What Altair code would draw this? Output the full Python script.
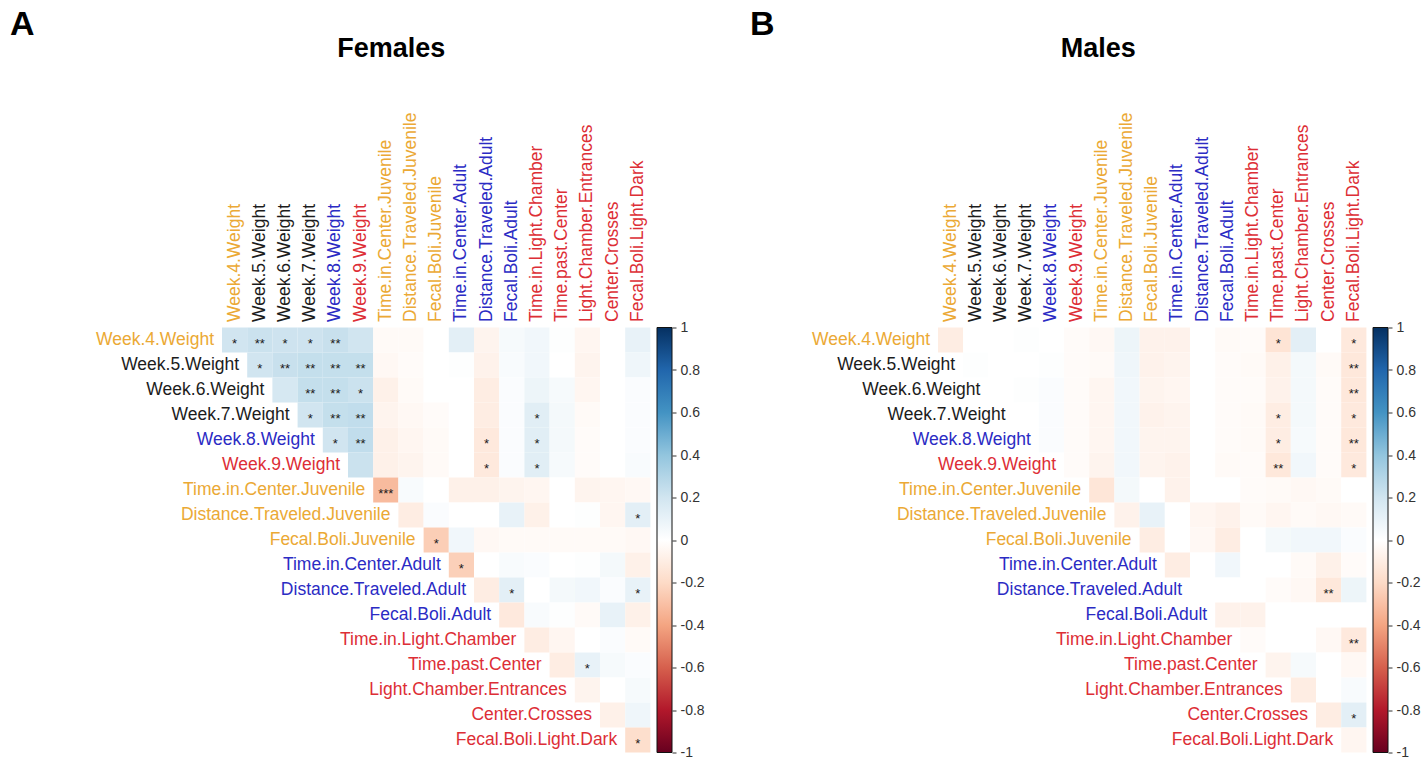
import altair as alt
import pandas as pd

# Variables shown on both axes of each correlation triangle
VARS = [
    "Week.4.Weight", "Week.5.Weight", "Week.6.Weight", "Week.7.Weight",
    "Week.8.Weight", "Week.9.Weight", "Time.in.Center.Juvenile",
    "Distance.Traveled.Juvenile", "Fecal.Boli.Juvenile", "Time.in.Center.Adult",
    "Distance.Traveled.Adult", "Fecal.Boli.Adult", "Time.in.Light.Chamber",
    "Time.past.Center", "Light.Chamber.Entrances", "Center.Crosses",
    "Fecal.Boli.Light.Dark",
]

ORANGE, BLACK, BLUE, RED = "#EBA935", "#1c1c1c", "#2B2BC4", "#DD2E36"
LABEL_COLORS = [
    ORANGE, BLACK, BLACK, BLACK, BLUE, RED,
    ORANGE, ORANGE, ORANGE,
    BLUE, BLUE, BLUE,
    RED, RED, RED, RED, RED,
]

# Upper-triangle correlations, one list per row (row i holds columns i..17)
FEMALE_R = [
    [0.20, 0.22, 0.21, 0.21, 0.23, 0.20, -0.03, -0.03, 0.0, 0.12, -0.06, 0.04, 0.06, 0.01, -0.05, 0.0, 0.10],
    [0.20, 0.23, 0.24, 0.24, 0.24, -0.04, -0.02, 0.0, 0.01, -0.07, 0.03, 0.06, 0.0, -0.06, 0.0, 0.07],
    [0.18, 0.24, 0.24, 0.22, -0.08, -0.03, 0.0, 0.0, -0.10, 0.02, 0.08, 0.04, -0.05, 0.0, 0.02],
    [0.20, 0.24, 0.25, -0.06, -0.04, -0.02, 0.0, -0.10, 0.02, 0.13, 0.05, -0.03, 0.0, 0.02],
    [0.20, 0.25, -0.08, -0.05, -0.03, 0.0, -0.12, 0.02, 0.13, 0.05, -0.02, 0.0, 0.02],
    [0.22, -0.08, -0.06, -0.03, 0.0, -0.12, 0.02, 0.13, 0.04, -0.02, 0.0, 0.03],
    [-0.32, 0.03, 0.0, -0.08, -0.08, -0.06, -0.05, 0.0, -0.06, -0.05, -0.04],
    [-0.10, 0.02, 0.0, 0.0, 0.10, -0.08, 0.0, 0.01, -0.05, 0.12],
    [-0.25, 0.06, -0.04, -0.03, -0.03, -0.03, -0.03, -0.03, -0.04],
    [-0.24, 0.0, 0.03, 0.02, 0.0, 0.01, 0.05, -0.08],
    [-0.10, 0.12, 0.0, 0.05, 0.06, 0.02, 0.10],
    [-0.12, 0.03, 0.01, -0.03, 0.10, -0.08],
    [-0.10, -0.05, 0.0, 0.02, -0.03],
    [-0.10, 0.10, 0.04, 0.02],
    [-0.06, 0.0, 0.04],
    [-0.08, 0.07],
    [-0.18],
]

MALE_R = [
    [-0.10, 0.0, 0.0, 0.01, 0.0, -0.02, -0.04, 0.08, -0.07, -0.07, 0.0, -0.03, -0.02, -0.15, 0.12, 0.0, -0.12],
    [0.01, 0.0, 0.0, 0.01, -0.02, -0.03, 0.07, -0.07, -0.06, 0.0, -0.02, -0.03, -0.08, 0.05, -0.03, -0.13],
    [0.0, 0.01, 0.02, -0.02, -0.05, 0.06, -0.06, -0.05, 0.0, -0.02, -0.02, -0.07, 0.05, -0.02, -0.13],
    [0.0, 0.02, -0.02, -0.05, 0.06, -0.07, -0.06, 0.0, -0.02, -0.03, -0.10, 0.05, -0.02, -0.12],
    [0.02, -0.02, -0.05, 0.06, -0.06, -0.06, 0.0, -0.02, -0.03, -0.10, 0.04, -0.02, -0.13],
    [-0.02, -0.06, 0.06, -0.06, -0.07, 0.0, -0.03, -0.02, -0.13, 0.06, -0.02, -0.12],
    [-0.14, 0.05, 0.0, -0.07, 0.0, 0.0, -0.02, -0.03, -0.04, -0.03, 0.0],
    [-0.07, 0.10, 0.0, -0.05, -0.07, -0.03, -0.05, -0.03, -0.04, -0.03],
    [-0.10, 0.0, -0.04, -0.10, 0.0, 0.05, 0.06, 0.06, 0.02],
    [-0.10, 0.0, 0.06, 0.0, 0.0, -0.03, -0.08, -0.02],
    [0.0, 0.0, 0.0, -0.02, -0.04, -0.13, 0.08],
    [-0.07, -0.07, 0.0, 0.0, 0.0, 0.0],
    [-0.02, 0.0, 0.0, -0.04, -0.12],
    [-0.06, 0.04, 0.0, -0.04],
    [-0.10, 0.0, 0.03],
    [-0.10, 0.12],
    [-0.05],
]

# Significance marks: (row number, column number, stars)
FEMALE_SIG = [
    (1, 1, "*"), (1, 2, "**"), (1, 3, "*"), (1, 4, "*"), (1, 5, "**"),
    (2, 2, "*"), (2, 3, "**"), (2, 4, "**"), (2, 5, "**"), (2, 6, "**"),
    (3, 4, "**"), (3, 5, "**"), (3, 6, "*"),
    (4, 4, "*"), (4, 5, "**"), (4, 6, "**"), (4, 13, "*"),
    (5, 5, "*"), (5, 6, "**"), (5, 11, "*"), (5, 13, "*"),
    (6, 11, "*"), (6, 13, "*"),
    (7, 7, "***"), (8, 17, "*"), (9, 9, "*"), (10, 10, "*"),
    (11, 12, "*"), (11, 17, "*"), (14, 15, "*"), (17, 17, "*"),
]

MALE_SIG = [
    (1, 14, "*"), (1, 17, "*"), (2, 17, "**"), (3, 17, "**"),
    (4, 14, "*"), (4, 17, "*"), (5, 14, "*"), (5, 17, "**"),
    (6, 14, "**"), (6, 17, "*"), (11, 16, "**"), (13, 17, "**"),
    (16, 17, "*"),
]

BAR_TICKS = [1, 0.8, 0.6, 0.4, 0.2, 0, -0.2, -0.4, -0.6, -0.8, -1]
RDBU_STOPS = [-1, -0.8, -0.6, -0.4, -0.2, 0, 0.2, 0.4, 0.6, 0.8, 1]
RDBU_COLORS = ["#67001F", "#B2182B", "#D6604D", "#F4A582", "#FDDBC7", "#FFFFFF",
               "#D1E5F0", "#92C5DE", "#4393C3", "#2166AC", "#053061"]

N = len(VARS)
CELL_W, CELL_H = 25.2, 25
W, H = CELL_W * N, CELL_H * N
FONT = "Liberation Sans"


def band():
    return alt.Scale(type="band", domain=VARS, paddingInner=0, paddingOuter=0)


def xpos(field):
    return alt.X(field, type="nominal", scale=band(), axis=None)


def ypos(field):
    return alt.Y(field, type="nominal", scale=band(), axis=None)


def panel(r_rows, sig, title, title_dx):
    cells = []
    for i, row in enumerate(r_rows):
        for k, v in enumerate(row):
            cells.append({"row": VARS[i], "col": VARS[i + k], "r": v})
    cells = pd.DataFrame(cells)
    stars = pd.DataFrame([{"row": VARS[i - 1], "col": VARS[j - 1], "s": s} for i, j, s in sig])
    labels = pd.DataFrame({"var": VARS, "color": LABEL_COLORS, "top": VARS[0]})
    ticks = pd.DataFrame({"v": BAR_TICKS})

    # colour bar: the legend draws the gradient, the axis below draws ticks and labels
    heat = alt.Chart(cells).mark_rect().encode(
        x=xpos("col"),
        y=ypos("row"),
        color=alt.Color(
            "r:Q",
            scale=alt.Scale(domain=RDBU_STOPS, range=RDBU_COLORS, interpolate="rgb"),
            legend=alt.Legend(
                orient="none", legendX=435, legendY=0, direction="vertical",
                gradientLength=H, gradientThickness=15,
                gradientStrokeColor="#111", gradientStrokeWidth=1,
                title=None, values=[-1, 1], labelExpr="''",
            ),
        ),
    )

    marks = alt.Chart(stars).mark_text(
        fontSize=13, baseline="middle", dy=3.5, color="#1a1a1a", font=FONT
    ).encode(x=xpos("col"), y=ypos("row"), text="s:N")

    row_labels = alt.Chart(labels).mark_text(
        align="right", baseline="middle", dx=-(CELL_W / 2 + 8), fontSize=17.5, font=FONT
    ).encode(
        x=xpos("var"), y=ypos("var"), text="var:N",
        fill=alt.Fill("color:N", scale=None),
    )

    col_labels = alt.Chart(labels).mark_text(
        align="left", baseline="middle", angle=270, dx=CELL_H / 2 + 5.5,
        fontSize=17.5, font=FONT,
    ).encode(
        x=xpos("var"), y=ypos("top"), text="var:N",
        fill=alt.Fill("color:N", scale=None),
    )

    bar_axis = alt.Chart(ticks).mark_tick(opacity=0).encode(
        y=alt.Y(
            "v:Q",
            scale=alt.Scale(domain=[-1, 1], nice=False, zero=False),
            axis=alt.Axis(
                orient="right", offset=435 + 15 - W, values=BAR_TICKS,
                tickSize=4, tickColor="#333", domain=False, grid=False,
                labelFontSize=14, labelPadding=4, labelColor="#333", labelFont=FONT,
                labelExpr="toString(round(datum.value*10)/10)", title=None,
            ),
        )
    )

    return alt.layer(heat, marks, row_labels, col_labels, bar_axis).resolve_scale(
        y="independent"
    ).properties(
        width=W, height=H,
        title=alt.TitleParams(
            title, anchor="middle", frame="group", dx=title_dx, offset=50,
            fontSize=27, fontWeight="bold", font=FONT, color="black",
        ),
    )


def lettered(chart, letter, dx):
    return alt.vconcat(
        chart,
        bounds="flush",
        title=alt.TitleParams(
            letter, anchor="start", frame="group", dx=dx, offset=-7,
            fontSize=34, fontWeight="bold", font=FONT, color="black",
        ),
    )


females = lettered(panel(FEMALE_R, FEMALE_SIG, "Females", -45), "A", -212)
males = lettered(panel(MALE_R, MALE_SIG, "Males", -54), "B", -188)

# panel origins sit 716 px apart
chart = alt.hconcat(females, males, spacing=716, bounds="flush").resolve_scale(
    color="independent"
).properties(
    autosize=alt.AutoSizeParams(type="none"),
    padding={"left": 222, "top": 327.5, "right": 1427 - 222, "bottom": 763 - 327.5},
    background="white",
).configure_view(stroke=None)

chart.save("out.html", embed_options={"renderer": "svg", "actions": False})
